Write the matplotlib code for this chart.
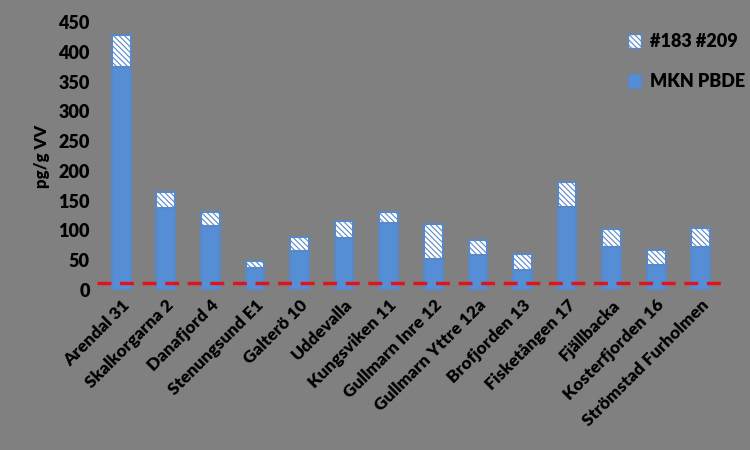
import numpy as np
from matplotlib import pyplot as plt
from matplotlib.patches import Patch

plt.rcParams['font.family'] = ['Lato', 'DejaVu Sans']
plt.rcParams['hatch.color'] = '#2b3448'
plt.rcParams['hatch.linewidth'] = 0.8

stations = ['Arendal 31', 'Skalkorgarna 2', 'Danafjord 4', 'Stenungsund E1', 'Galterö 10',
            'Uddevalla', 'Kungsviken 11', 'Gullmarn Inre 12', 'Gullmarn Yttre 12a',
            'Brofjorden 13', 'Fisketången 17', 'Fjällbacka', 'Kosterfjorden 16',
            'Strömstad Furholmen']
mkn_pbde = [375, 138, 108, 37, 65, 87, 113, 52, 59, 34, 140, 72, 41, 72]
pbde_183_209 = [53, 27, 22, 12, 23, 28, 17, 58, 25, 27, 42, 31, 26, 32]
limit = 12

bg = '#808080'
blue = '#558ed5'
edge = '#5a88c4'
hatch = '\\' * 6

fig = plt.figure(figsize=(7.5, 4.5), dpi=100, facecolor=bg)
ax = fig.add_axes([0.129, 0.356, 0.838, 0.595])
ax.set_facecolor(bg)

x = np.arange(len(stations))
ax.bar(x, mkn_pbde, width=0.42, color=blue, edgecolor=edge, linewidth=1.5, label='MKN PBDE')
ax.bar(x, pbde_183_209, width=0.42, bottom=mkn_pbde, color='white', edgecolor=edge,
       linewidth=1.5, hatch=hatch, label='#183 #209')
ax.axhline(limit, color='#e0141e', linestyle=(0, (4, 2.5)), linewidth=2.5)

ax.set_xlim(-0.55, len(stations) - 0.45)
ax.set_ylim(0, 450)
ax.set_yticks(np.arange(0, 451, 50))
ax.set_xticks(x)
ax.set_xticklabels(stations, rotation=45, ha='right', rotation_mode='anchor',
                   fontsize=12.5, fontweight='heavy')
for lbl in ax.get_yticklabels():
    lbl.set_fontsize(13)
    lbl.set_fontweight('heavy')
ax.tick_params(length=0, pad=5)
ax.set_ylabel('pg/g VV', fontsize=12, fontweight='heavy', labelpad=6)
for s in ax.spines.values():
    s.set_visible(False)

handles = [Patch(facecolor='white', edgecolor=edge, hatch=hatch),
           Patch(facecolor=blue, edgecolor=edge)]
ax.legend(handles, ['#183 #209', 'MKN PBDE'], loc='upper left', bbox_to_anchor=(0.82, 1.02),
          frameon=False, prop={'weight': 'heavy', 'size': 13}, handlelength=0.7,
          handleheight=0.8, labelspacing=1.3, handletextpad=0.5)

fig.savefig('out.png', facecolor=bg)
